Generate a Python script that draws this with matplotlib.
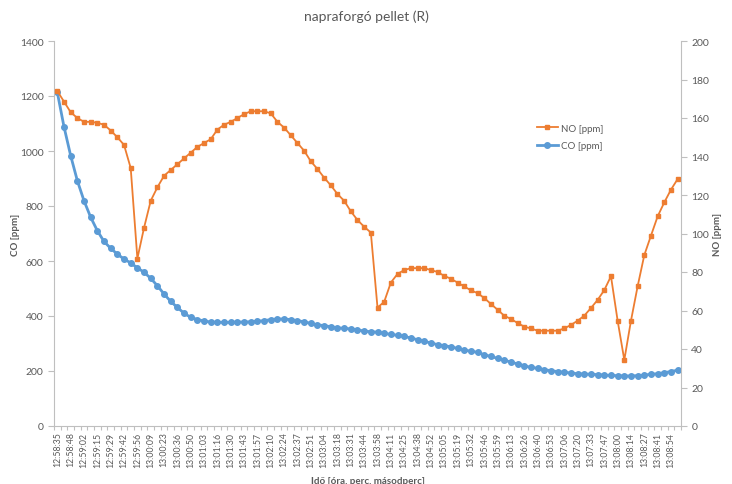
import matplotlib
matplotlib.use("Agg")
import matplotlib.pyplot as plt
import numpy as np

time_labels = ["12:58:35","12:58:48","12:59:02","12:59:15","12:59:29","12:59:42","12:59:56",
               "13:00:09","13:00:23","13:00:36","13:00:50","13:01:03","13:01:16","13:01:30",
               "13:01:43","13:01:57","13:02:10","13:02:24","13:02:37","13:02:51","13:03:04",
               "13:03:18","13:03:31","13:03:44","13:03:58","13:04:11","13:04:25","13:04:38",
               "13:04:52","13:05:05","13:05:19","13:05:32","13:05:46","13:05:59","13:06:13",
               "13:06:26","13:06:40","13:06:53","13:07:06","13:07:20","13:07:33","13:07:47",
               "13:08:00","13:08:14","13:08:27","13:08:41","13:08:54"]

no_ppm = [174, 168.5, 163, 160, 158, 158, 157.5, 156.5, 153.5, 150, 146, 134, 87, 103, 117, 124,
          130, 133, 136, 139, 142, 145, 147, 149, 154, 156.5, 158, 160, 162, 163.5, 163.5, 163.5,
          162.4, 158, 155, 151, 147, 143, 137.5, 133.5, 129, 125, 120.5, 117, 111.5, 107, 103.5, 100.5,
          61.5, 64.5, 74.5, 79, 81, 82, 82, 82, 81, 80, 78, 76.5, 74.5, 72.5, 70.5,
          69, 66.5, 63.4, 60.4, 57.3, 55.6, 53.5, 51.6, 50.7, 49.5, 49.5, 49.5, 49.5, 50.7, 52.5,
          54.7, 57.3, 61.3, 65.5, 70.6, 77.8, 54.7, 34.3, 54.7, 72.6, 88.8, 98.9, 108.9, 116.2,
          122.8, 128.3]

co_ppm = [1213, 1088, 983, 892, 819, 759, 710, 671, 646, 625, 607, 593, 575, 559, 537, 510,
          480, 453, 431, 410, 395, 387, 382, 378, 377, 377, 377, 378, 378, 379, 381,
          383, 387, 389, 389, 387, 383, 379, 373, 368, 365, 361, 357, 355, 353, 350, 345, 343,
          341, 337, 333, 330, 326, 320, 314, 308, 302, 296, 292, 288, 282, 276, 272,
          268, 259, 253, 246, 240, 232, 226, 219, 213, 210, 205, 201, 198, 195, 193, 190, 189,
          188, 187, 185, 184, 183, 182, 182, 183, 185, 188, 190, 194, 198, 203]

n = len(co_ppm)
x = np.arange(n)

TXT = "#595959"
AX = "#bfbfbf"
ORANGE = "#ED7D31"
BLUE = "#5B9BD5"
plt.rcParams['font.family'] = ['Lato', 'DejaVu Sans']

fig = plt.figure(figsize=(7.32, 4.85), dpi=100)
ax = fig.add_axes([54/732, 1-427/485, (681-54)/732, (427-42)/485])
ax2 = ax.twinx()

l_co, = ax.plot(x, co_ppm, color=BLUE, lw=2.0, marker='o', ms=4.0, label='CO [ppm]')
l_no, = ax2.plot(x, no_ppm, color=ORANGE, lw=1.3, marker='s', ms=3.2, label='NO [ppm]')

ax.set_xlim(-0.5, n-0.5)
ax.set_ylim(0, 1400)
ax2.set_ylim(0, 200)
ax.set_yticks(np.arange(0, 1401, 200))
ax2.set_yticks(np.arange(0, 201, 20))

ax.set_xticks(x[::2])
ax.set_xticklabels(time_labels, rotation=90, fontsize=6.3, color=TXT)
ax.set_xticks(np.arange(-0.5, n, 1), minor=True)
ax.tick_params(axis='x', which='major', length=0, pad=4)
ax.tick_params(axis='x', which='minor', length=3, color=AX, width=0.8)
ax.tick_params(axis='y', labelsize=7.5, labelcolor=TXT, color=AX, length=4, width=0.8)
ax2.tick_params(axis='y', labelsize=7.5, labelcolor=TXT, color=AX, length=4, width=0.8)

for a in (ax, ax2):
    for s in a.spines.values():
        s.set_visible(False)
ax.spines['left'].set_visible(True)
ax.spines['left'].set_color(AX)
ax.spines['bottom'].set_visible(True)
ax.spines['bottom'].set_color(AX)
ax2.spines['right'].set_visible(True)
ax2.spines['right'].set_color(AX)

ax.set_ylabel('CO [ppm]', fontsize=7, fontweight='bold', color=TXT, labelpad=0)
ax2.set_ylabel('NO [ppm]', fontsize=7, fontweight='bold', color=TXT, labelpad=2.5)
ax.set_xlabel('Idő [óra, perc, másodperc]', fontsize=7, fontweight='bold', color=TXT, labelpad=7)

fig.text(366/732, 1-17/485, 'napraforgó pellet (R)', ha='center', va='center', fontsize=10, color=TXT)

leg = ax2.legend(handles=[l_no, l_co], loc='upper left', bbox_to_anchor=(528/732, 1-116/485),
                 bbox_transform=fig.transFigure, frameon=False, fontsize=7, labelcolor=TXT,
                 handlelength=2.2, handletextpad=0.3, labelspacing=0.9)

fig.savefig('out.png', dpi=100)
